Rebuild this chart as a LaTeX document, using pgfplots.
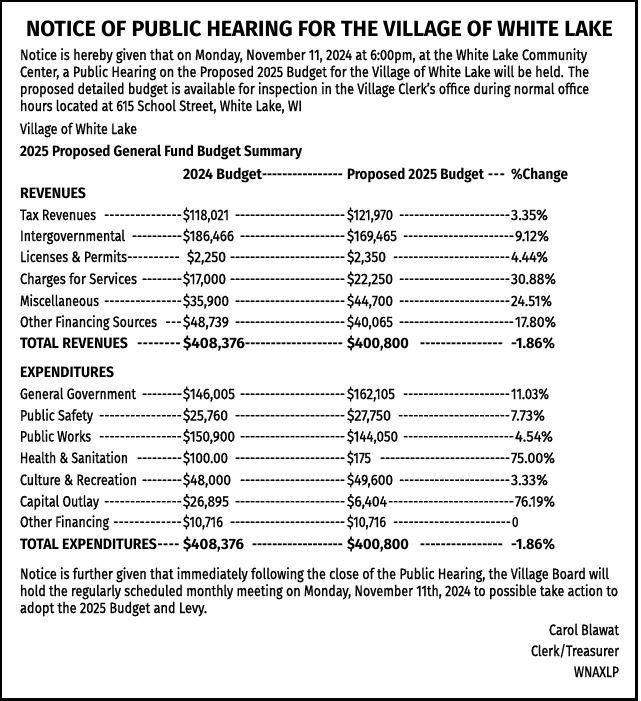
\documentclass[border=0pt]{standalone}
\usepackage{pgfplots}
\pgfplotsset{compat=1.18}
\usepackage{graphicx}
\usepackage{fontspec}
\setmainfont{Fira Sans}[FakeStretch=0.82, UprightFeatures={FakeBold=1.0}]
\newcommand{\T}[4]{\node[anchor=base west,inner sep=0pt,outer sep=0pt] at (axis cs:#1,#2) {\resizebox{#3pt}{\height}{#4}};}
\newcommand{\TR}[4]{\node[anchor=base east,inner sep=0pt,outer sep=0pt] at (axis cs:#1,#2) {\resizebox{#3pt}{\height}{#4}};}
\newcommand{\D}[3]{\node[anchor=base west,inner sep=0pt,outer sep=0pt] at (axis cs:#1,#3) {\hbox to \dimexpr #2pt-#1pt\relax{\xleaders\hbox{-}\hfill}};}
\newcommand{\DB}[3]{\node[anchor=base west,inner sep=0pt,outer sep=0pt] at (axis cs:#1,#3) {\bfseries\hbox to \dimexpr #2pt-#1pt\relax{\xleaders\hbox{-}\hfill}};}
\begin{document}
\begin{tikzpicture}[font=\fontsize{15}{17}\selectfont]
\begin{axis}[width=640pt,height=701pt,scale only axis,xmin=0,xmax=640,ymin=0,ymax=701,y dir=reverse,hide axis,clip=false]
\path (axis cs:0,0) (axis cs:640,701);
\draw[line width=2.4pt,black] (axis cs:1.2,1.2) rectangle (axis cs:636.5,699.6);
% title
\T{26}{37}{587}{\fontsize{22}{24}\selectfont\bfseries NOTICE OF PUBLIC HEARING FOR THE VILLAGE OF WHITE LAKE}
% paragraph 1
\T{20}{60}{567}{Notice is hereby given that on Monday, November 11, 2024 at 6:00pm, at the White Lake Community}
\T{20}{77}{569}{Center, a Public Hearing on the Proposed 2025 Budget for the Village of White Lake will be held. The}
\T{20}{94}{569}{proposed detailed budget is available for inspection in the Village Clerk’s office during normal office}
\T{20}{111}{282}{hours located at 615 School Street, White Lake, WI}
\T{20}{134}{117}{Village of White Lake}
\T{20}{156}{282}{\bfseries 2025 Proposed General Fund Budget Summary}
% header
\T{183}{179}{79}{\bfseries 2024 Budget}
\DB{262}{343}{179}
\T{347}{179}{137}{\bfseries Proposed 2025 Budget}
\DB{487}{506}{179}
\T{511}{179}{57}{\bfseries \%Change}
% revenues
\T{20}{198}{66}{\bfseries REVENUES}
\T{20}{220}{76}{Tax Revenues}\D{104}{182}{220}\T{183}{220}{46}{\$118,021}\D{235}{345}{220}\T{347}{220}{46}{\$121,970}\D{399}{510}{220}\T{511}{220}{37}{3.35\%}
\T{20}{241}{105}{Intergovernmental}\D{132}{182}{241}\T{183}{241}{51}{\$186,466}\D{240}{345}{241}\T{347}{241}{50}{\$169,465}\D{403}{514}{241}\T{515}{241}{34}{9.12\%}
\T{20}{262}{107}{Licenses \& Permits}\D{127}{180}{262}\T{187}{262}{39}{\$2,250}\D{230}{345}{262}\T{347}{262}{39}{\$2,350}\D{393}{510}{262}\T{511}{262}{37}{4.44\%}
\T{20}{284}{117}{Charges for Services}\D{142}{182}{284}\T{183}{284}{43}{\$17,000}\D{230}{345}{284}\T{347}{284}{46}{\$22,250}\D{399}{510}{284}\T{511}{284}{45}{30.88\%}
\T{20}{306}{79}{Miscellaneous}\D{104}{182}{306}\T{183}{306}{46}{\$35,900}\D{235}{345}{306}\T{347}{306}{46}{\$44,700}\D{399}{510}{306}\T{511}{306}{41}{24.51\%}
\T{20}{327}{137}{Other Financing Sources}\D{165}{182}{327}\T{183}{327}{46}{\$48,739}\D{235}{345}{327}\T{347}{327}{46}{\$40,065}\D{399}{514}{327}\T{515}{327}{41}{17.80\%}
\T{20}{348}{108}{\bfseries TOTAL REVENUES}\DB{137}{181}{348}\T{183}{348}{62}{\bfseries \$408,376}\DB{245}{343}{348}\T{347}{348}{62}{\bfseries \$400,800}\DB{420}{503}{348}\T{511}{348}{44}{\bfseries -1.86\%}
% expenditures
\T{20}{377.5}{94}{\bfseries EXPENDITURES}
\T{20}{399}{116}{General Government}\D{142}{182}{399}\T{183}{399}{52}{\$146,005}\D{240}{345}{399}\T{347}{399}{48}{\$162,105}\D{403}{510}{399}\T{511}{399}{38}{11.03\%}
\T{20}{420.5}{73}{Public Safety}\D{99}{182}{420.5}\T{183}{420.5}{45}{\$25,760}\D{235}{345}{420.5}\T{347}{420.5}{44}{\$27,750}\D{398}{510}{420.5}\T{511}{420.5}{34}{7.73\%}
\T{20}{441.5}{71}{Public Works}\D{99}{182}{441.5}\T{183}{441.5}{52}{\$150,900}\D{240}{345}{441.5}\T{347}{441.5}{51}{\$144,050}\D{403}{514}{441.5}\T{515}{441.5}{38}{4.54\%}
\T{20}{463}{108}{Health \& Sanitation}\D{137}{182}{463}\T{183}{463}{45}{\$100.00}\D{235}{345}{463}\T{347}{463}{24}{\$175}\D{380}{510}{463}\T{511}{463}{44}{75.00\%}
\T{20}{485}{117}{Culture \& Recreation}\D{142}{182}{485}\T{183}{485}{48}{\$48,000}\D{240}{345}{485}\T{347}{485}{46}{\$49,600}\D{399}{510}{485}\T{511}{485}{37}{3.33\%}
\T{20}{506.5}{79}{Capital Outlay}\D{104}{182}{506.5}\T{183}{506.5}{46}{\$26,895}\D{235}{345}{506.5}\T{347}{506.5}{40}{\$6,404}\D{388}{514}{506.5}\T{515}{506.5}{40}{76.19\%}
\T{20}{527}{89}{Other Financing}\D{113}{182}{527}\T{183}{527}{40}{\$10,716}\D{230}{345}{527}\T{347}{527}{39}{\$10,716}\D{393}{511}{527}\T{512}{527}{6.5}{0}
\T{20}{549}{137}{\bfseries TOTAL EXPENDITURES}\DB{157}{180}{549}\T{183}{549}{61}{\bfseries \$408,376}\DB{252}{343}{549}\T{347}{549}{62}{\bfseries \$400,800}\DB{420}{503}{549}\T{511}{549}{44}{\bfseries -1.86\%}
% paragraph 2
\T{20}{579}{589}{Notice is further given that immediately following the close of the Public Hearing, the Village Board will}
\T{20}{596}{598}{hold the regularly scheduled monthly meeting on Monday, November 11th, 2024 to possible take action to}
\T{20}{613}{187}{adopt the 2025 Budget and Levy.}
% signature
\TR{619}{635}{70}{Carol Blawat}
\TR{619}{656}{88}{Clerk/Treasurer}
\TR{619}{677}{45}{WNAXLP}
\end{axis}
\end{tikzpicture}
\end{document}
